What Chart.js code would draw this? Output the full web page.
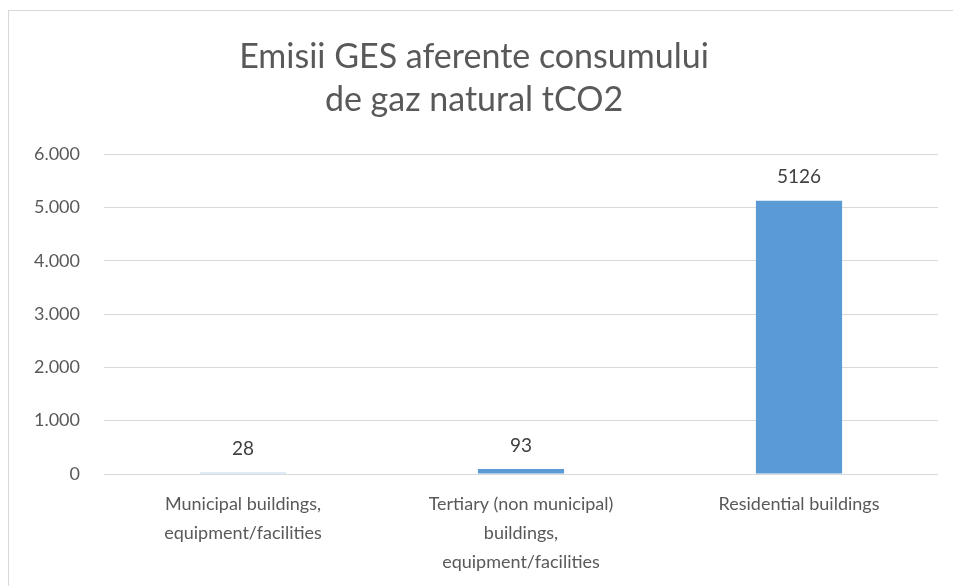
<!DOCTYPE html>
<html>
<head>
<meta charset="utf-8">
<script src="https://cdn.jsdelivr.net/npm/chart.js@4"></script>
<style>
  html, body { margin:0; padding:0; background:#fff; }
  #wrap { position:relative; width:953px; height:586px; overflow:hidden; }
  #frame { position:absolute; left:8px; top:10px; width:960px; height:600px; border:1px solid #d9d9d9; box-sizing:border-box; }
  canvas { position:absolute; left:0; top:0; }
</style>
</head>
<body>
<div id="wrap">
  <div id="frame"></div>
  <canvas id="c" width="953" height="586"></canvas>
</div>
<script>
// chart data
var categories = [
  ['Municipal buildings,', 'equipment/facilities'],
  ['Tertiary (non municipal)', 'buildings,', 'equipment/facilities'],
  'Residential buildings'
];
var emissions = [28, 93, 5126];
var barColors = ['#bdd7ee', '#5b9bd5', '#5b9bd5'];
var yTicks = [0, 1000, 2000, 3000, 4000, 5000, 6000];

var fontFam = 'Lato, "Open Sans", sans-serif';

// draw the value above each bar
var valueLabels = {
  id: 'valueLabels',
  afterDatasetsDraw: function(chart) {
    var ctx = chart.ctx;
    var meta = chart.getDatasetMeta(0);
    ctx.save();
    ctx.font = '19px ' + fontFam;
    ctx.fillStyle = '#404040';
    ctx.textAlign = 'center';
    ctx.textBaseline = 'bottom';
    meta.data.forEach(function(bar, i) {
      ctx.fillText(String(emissions[i]), bar.x, bar.y - 14);
    });
    ctx.restore();
  }
};

var chart = new Chart(document.getElementById('c'), {
  type: 'bar',
  data: {
    labels: categories,
    datasets: [{
      data: emissions,
      backgroundColor: barColors,
      borderWidth: 0,
      barPercentage: 0.31,
      categoryPercentage: 1
    }]
  },
  options: {
    responsive: false,
    animation: false,
    events: [],
    layout: { padding: { left: 10, right: 15, top: 0, bottom: 0 } },
    plugins: {
      legend: { display: false },
      tooltip: { enabled: false },
      title: {
        display: true,
        text: ['Emisii GES aferente consumului', 'de gaz natural tCO2'],
        color: '#595959',
        font: { family: fontFam, size: 34, weight: 'normal', lineHeight: 1.28 },
        padding: { top: 35, bottom: 32 }
      }
    },
    scales: {
      x: {
        afterFit: function(scale) { scale.height = 112; },
        grid: { display: false },
        border: { display: false },
        ticks: {
          color: '#595959',
          font: { family: fontFam, size: 18, lineHeight: 1.6 },
          padding: 8,
          maxRotation: 0,
          autoSkip: false
        }
      },
      y: {
        min: 0,
        max: 6000,
        afterBuildTicks: function(scale) {
          scale.ticks = yTicks.map(function(v) { return { value: v }; });
        },
        afterFit: function(scale) { scale.width = 94; },
        grid: { color: '#d9d9d9', lineWidth: 1, drawTicks: false },
        border: { display: false },
        ticks: {
          color: '#595959',
          font: { family: fontFam, size: 18 },
          padding: 24,
          callback: function(v) {
            return v.toLocaleString('de-DE');
          }
        }
      }
    }
  },
  plugins: [valueLabels]
});
</script>
</body>
</html>
